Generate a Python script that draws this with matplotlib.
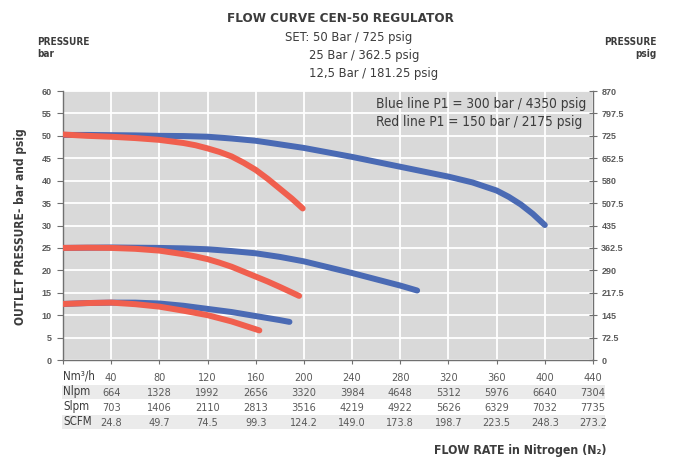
import matplotlib
matplotlib.use("Agg")
import matplotlib.pyplot as plt
from matplotlib import font_manager
from matplotlib.font_manager import FontProperties
from matplotlib.patches import Rectangle

# ---------------- data ----------------
blue50_x = [0, 20, 40, 60, 80, 100, 120, 140, 160, 180, 200, 220, 240, 260, 280, 300, 320, 340, 360, 370, 380, 390, 400]
blue50_y = [50.2, 50.2, 50.15, 50.1, 50.0, 49.95, 49.8, 49.4, 48.9, 48.1, 47.3, 46.3, 45.3, 44.2, 43.1, 42.0, 40.9, 39.6, 37.8, 36.4, 34.7, 32.6, 30.1]
red50_x = [0, 20, 40, 60, 80, 100, 110, 120, 130, 140, 150, 160, 170, 180, 190, 199]
red50_y = [50.3, 50.0, 49.8, 49.5, 49.1, 48.4, 47.9, 47.2, 46.4, 45.4, 44.0, 42.4, 40.4, 38.2, 36.0, 33.8]
blue25_x = [0, 20, 40, 60, 80, 100, 120, 140, 160, 180, 200, 220, 240, 260, 280, 294]
blue25_y = [25.0, 25.05, 25.1, 25.05, 25.0, 24.9, 24.7, 24.3, 23.8, 23.0, 22.0, 20.7, 19.4, 18.0, 16.6, 15.5]
red25_x = [0, 20, 40, 60, 80, 100, 110, 120, 130, 140, 150, 160, 170, 180, 196]
red25_y = [25.0, 25.05, 25.0, 24.8, 24.4, 23.6, 23.1, 22.5, 21.7, 20.8, 19.7, 18.6, 17.5, 16.3, 14.3]
blue12_x = [0, 20, 40, 60, 80, 100, 120, 140, 160, 180, 188]
blue12_y = [12.5, 12.7, 12.8, 12.8, 12.6, 12.1, 11.4, 10.7, 9.8, 8.9, 8.5]
red12_x = [0, 20, 40, 60, 80, 100, 120, 140, 163]
red12_y = [12.5, 12.7, 12.8, 12.45, 11.9, 11.0, 10.0, 8.6, 6.6]

left_ticks = [0, 5, 10, 15, 20, 25, 30, 35, 40, 45, 50, 55, 60]
right_tick_labels = ["0", "72.5", "145", "217.5", "290", "362.5", "435", "507.5",
                     "580", "652.5", "725", "797.5", "870"]
flow_nm3h = [40, 80, 120, 160, 200, 240, 280, 320, 360, 400, 440]
flow_nlpm = ["664", "1328", "1992", "2656", "3320", "3984", "4648", "5312", "5976", "6640", "7304"]
flow_slpm = ["703", "1406", "2110", "2813", "3516", "4219", "4922", "5626", "6329", "7032", "7735"]
flow_scfm = ["24.8", "49.7", "74.5", "99.3", "124.2", "149.0", "173.8", "198.7", "223.5", "248.3", "273.2"]
row_labels = ["Nm³/h", "Nlpm", "Slpm", "SCFM"]

# ---------------- fonts ----------------
def find_condensed(bold):
    best = None
    for f in font_manager.fontManager.ttflist:
        fn = f.fname.lower()
        nm = f.name.lower()
        is_cond = ("narrow" in nm or "condensed" in nm or "narrow" in fn or "condensed" in fn
                   or str(f.stretch) in ("condensed", "semi-condensed", "575", "500"))
        if not is_cond or "oblique" in fn or "italic" in fn:
            continue
        w = f.weight if isinstance(f.weight, int) else (700 if "bold" in str(f.weight) else 400)
        if bold != (w >= 600):
            continue
        rank = 0
        if "liberation" in nm:
            rank = 3
        elif "dejavu sans" in nm and "mono" not in nm:
            rank = 2
        elif "roboto" in nm or "open sans" in nm:
            rank = 1
        if best is None or rank > best[0]:
            best = (rank, f.fname)
    return best[1] if best else None

reg_file = find_condensed(False)
bold_file = find_condensed(True)
names = {f.name for f in font_manager.fontManager.ttflist}
fallback = "Roboto" if "Roboto" in names else "DejaVu Sans"

def FP(size, bold=False):
    fn = bold_file if bold else reg_file
    if fn:
        return FontProperties(fname=fn, size=size)
    return FontProperties(family=fallback, size=size, weight="bold" if bold else "normal")

TICKF = "Liberation Sans" if "Liberation Sans" in names else "DejaVu Sans"

BLUE = "#4a6ab4"
RED = "#f05f4e"
DARK = "#3c3c3c"
GRAY = "#5a5a5a"

W, H = 674, 461
fig = plt.figure(figsize=(W / 100, H / 100), dpi=100)
fig.patch.set_facecolor("white")

def fx(px):
    return px / W

def fy(py):
    return 1 - py / H

L, R, T, B = 63, 593, 91, 360
ax = fig.add_axes([fx(L), fy(B), fx(R) - fx(L), fy(T) - fy(B)])
ax.set_facecolor("#d9d9d9")
ax.set_xlim(0, 440)
ax.set_ylim(0, 60)
ax.set_xticks([0] + flow_nm3h)
ax.set_xticklabels([])
ax.set_yticks(left_ticks)
ax.set_yticklabels([str(t) for t in left_ticks])
ax.grid(True, color="white", linewidth=1.3)
ax.set_axisbelow(True)
for s in ["left", "right", "bottom"]:
    ax.spines[s].set_color("#707070")
    ax.spines[s].set_linewidth(1.0)
ax.spines["top"].set_visible(False)
ax.tick_params(axis="y", direction="out", length=4, color="#707070",
               labelsize=6.5, labelcolor=GRAY, pad=4)
ax.tick_params(axis="x", direction="out", length=3, color="#707070")
for lab in ax.get_yticklabels():
    lab.set_fontfamily(TICKF)
    lab.set_fontweight("bold")

ax2 = ax.twinx()
ax2.set_ylim(0, 60)
ax2.set_yticks(left_ticks)
ax2.set_yticklabels(right_tick_labels)
ax2.tick_params(axis="y", direction="inout", length=6, color="#707070",
                labelsize=6.5, labelcolor=GRAY, pad=3)
for s in ax2.spines.values():
    s.set_visible(False)
for lab in ax2.get_yticklabels():
    lab.set_fontfamily(TICKF)
    lab.set_fontweight("bold")

lw = 4.3
kw = dict(linewidth=lw, solid_capstyle="round", solid_joinstyle="round")
ax.plot(blue50_x, blue50_y, color=BLUE, zorder=3, **kw)
ax.plot(blue25_x, blue25_y, color=BLUE, zorder=3, **kw)
ax.plot(blue12_x, blue12_y, color=BLUE, zorder=3, **kw)
ax.plot(red50_x, red50_y, color=RED, zorder=4, **kw)
ax.plot(red25_x, red25_y, color=RED, zorder=4, **kw)
ax.plot(red12_x, red12_y, color=RED, zorder=4, **kw)

ax.text((376 - L) / (R - L), (B - 97) / (B - T),
        "Blue line P1 = 300 bar / 4350 psig\nRed line P1 = 150 bar / 2175 psig",
        transform=ax.transAxes, ha="left", va="top", fontproperties=FP(9.8),
        color=DARK, linespacing=1.32, zorder=5)

# ---------------- titles ----------------
fig.text(fx(340), fy(18), "FLOW CURVE CEN-50 REGULATOR", ha="center", va="center",
         fontproperties=FP(9.6, True), color=DARK)
fig.text(fx(285), fy(37), "SET: 50 Bar / 725 psig", ha="left", va="center",
         fontproperties=FP(9.3), color=DARK)
fig.text(fx(309), fy(56), "25 Bar / 362.5 psig", ha="left", va="center",
         fontproperties=FP(9.3), color=DARK)
fig.text(fx(309), fy(74), "12,5 Bar / 181.25 psig", ha="left", va="center",
         fontproperties=FP(9.3), color=DARK)

fig.text(fx(37), fy(42), "PRESSURE", ha="left", va="center",
         fontproperties=FP(7.2, True), color=DARK)
fig.text(fx(37), fy(54), "bar", ha="left", va="center",
         fontproperties=FP(7.2, True), color=DARK)
fig.text(fx(657), fy(42), "PRESSURE", ha="right", va="center",
         fontproperties=FP(7.2, True), color=DARK)
fig.text(fx(657), fy(54), "psig", ha="right", va="center",
         fontproperties=FP(7.2, True), color=DARK)

fig.text(fx(21), fy(227), "OUTLET PRESSURE- bar and psig", ha="center", va="center",
         rotation=90, fontproperties=FP(8.6, True), color=DARK)

# ---------------- flow table ----------------
row_y = [377, 392, 407, 422]
for ry in (row_y[1], row_y[3]):
    fig.patches.append(Rectangle((fx(62), fy(ry + 7)), fx(605) - fx(62), 14 / H,
                                 transform=fig.transFigure, facecolor="#ebebeb",
                                 edgecolor="none", zorder=0))
rows = [[str(v) for v in flow_nm3h], flow_nlpm, flow_slpm, flow_scfm]
for ry, lab, vals in zip(row_y, row_labels, rows):
    fig.text(fx(63), fy(ry - 1), lab, ha="left", va="center",
             fontproperties=FP(8.3), color=DARK)
    for xv, s in zip(flow_nm3h, vals):
        px = L + (R - L) * xv / 440.0
        fig.text(fx(px), fy(ry + 1), s, ha="center", va="center",
                 fontproperties=FP(7.8), color=GRAY)

fig.text(fx(606), fy(450), "FLOW RATE in Nitrogen (N₂)", ha="right", va="center",
         fontproperties=FP(8.8, True), color=DARK)

fig.savefig("out.png", dpi=100)
